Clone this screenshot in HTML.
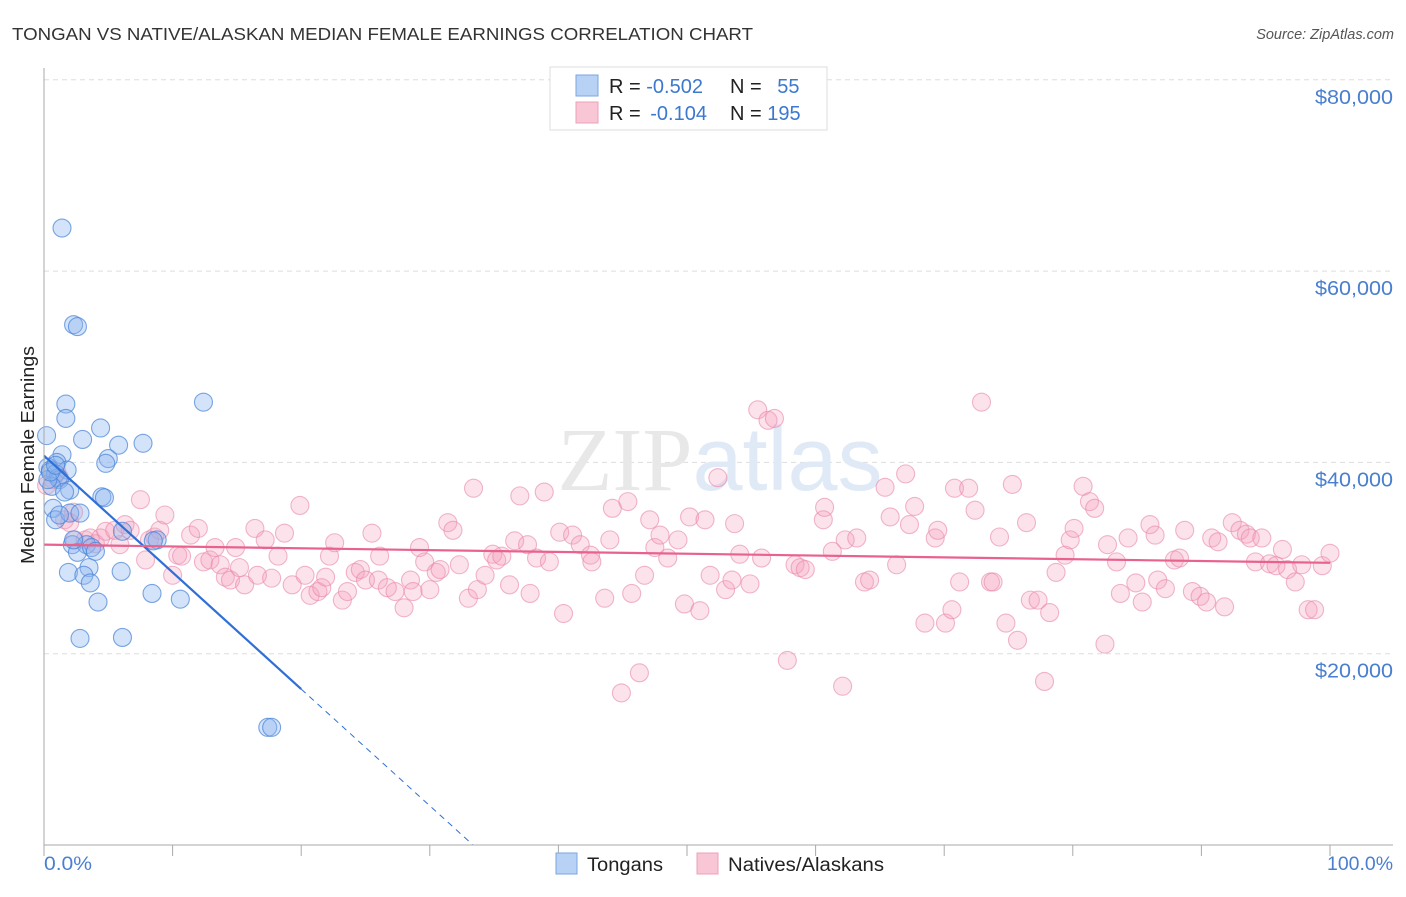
<!DOCTYPE html>
<html><head><meta charset="utf-8"><style>
body{margin:0;background:#fff;font-family:"Liberation Sans",sans-serif;}
svg text{font-family:"Liberation Sans",sans-serif;}
</style></head><body>
<svg width="1406" height="892" viewBox="0 0 1406 892">
<text x="12" y="40" font-size="17.5" fill="#333" textLength="741" lengthAdjust="spacingAndGlyphs">TONGAN VS NATIVE/ALASKAN MEDIAN FEMALE EARNINGS CORRELATION CHART</text>
<text x="1394" y="39" font-size="14.5" fill="#555" font-style="italic" text-anchor="end">Source: ZipAtlas.com</text>
<g id="grid"></g>
<text x="720" y="490" font-size="90" fill="#e4e8ef" text-anchor="middle" font-family="Liberation Serif"><tspan fill="#e8e8e8" font-family="Liberation Serif">ZIP</tspan><tspan fill="#e0eaf7" font-family="Liberation Sans">atlas</tspan></text>
<g id="pts"></g>
<g id="axes"></g>
<text transform="translate(34,455) rotate(-90)" font-size="18" fill="#222" text-anchor="middle" textLength="218" lengthAdjust="spacingAndGlyphs">Median Female Earnings</text>
<text x="44" y="870" font-size="19" fill="#4a7fd0" textLength="48" lengthAdjust="spacingAndGlyphs">0.0%</text>
<text x="1393" y="870" font-size="19" fill="#4a7fd0" text-anchor="end" textLength="66" lengthAdjust="spacingAndGlyphs">100.0%</text>
<g>
<rect x="550" y="67" width="277" height="63" fill="#fff" stroke="#ddd"/>
<rect x="576" y="75" width="22" height="21" fill="#b8d2f5" stroke="#7aa6e0"/>
<rect x="576" y="102" width="22" height="21" fill="#f9c6d5" stroke="#eca0b8"/>
<text x="609" y="93" font-size="20" fill="#222">R = <tspan fill="#3c78d0">-0.502</tspan></text>
<text x="730" y="93" font-size="20" fill="#222">N = <tspan fill="#3c78d0" dx="10">55</tspan></text>
<text x="609" y="120" font-size="20" fill="#222">R = <tspan fill="#3c78d0" dx="4">-0.104</tspan></text>
<text x="730" y="120" font-size="20" fill="#222">N = <tspan fill="#3c78d0">195</tspan></text>
</g>
<g>
<rect x="556" y="853" width="21" height="21" fill="#b8d2f5" stroke="#7aa6e0"/>
<text x="587" y="871" font-size="19" fill="#222" textLength="76" lengthAdjust="spacingAndGlyphs">Tongans</text>
<rect x="697" y="853" width="21" height="21" fill="#f9c6d5" stroke="#eca0b8"/>
<text x="728" y="871" font-size="19" fill="#222" textLength="156" lengthAdjust="spacingAndGlyphs">Natives/Alaskans</text>
</g>
</svg>
<script>
const yTicks=[20000,40000,60000,80000];
const yTickLabels=["$20,000","$40,000","$60,000","$80,000"];
const xTicks=[0,10,20,30,40,50,60,70,80,90,100];
const blueX=[1.4,2.3,2.6,1.7,1.7,4.4,3.0,0.2,7.7,5.8,12.4,5.0,4.8,1.4,1.0,0.3,0.5,1.8,0.9,1.1,1.2,0.6,2.0,1.6,4.5,4.7,0.7,0.9,2.0,2.8,1.2,6.1,8.8,8.5,2.2,3.3,2.6,3.7,4.0,3.5,6.0,1.9,3.1,3.6,8.4,10.6,4.2,2.8,6.1,17.4,17.7,0.3,0.5,0.9,2.3];
const blueY=[64.5,54.4,54.2,46.1,44.6,43.6,42.4,42.8,42.0,41.8,46.3,40.4,39.9,40.8,40.0,39.5,39.2,39.2,38.8,38.4,38.2,37.5,37.1,36.9,36.4,36.3,35.2,34.0,34.7,34.7,34.5,32.8,31.9,31.8,31.4,31.4,30.6,31.1,30.7,29.0,28.6,28.5,28.2,27.4,26.3,25.7,25.4,21.6,21.7,12.3,12.3,38.2,39.0,39.7,31.9];
const pinkX=[0.2,0.7,1.0,1.2,1.6,2.0,2.3,2.4,3.2,3.6,4.0,4.4,4.8,5.5,5.9,6.3,6.7,7.5,7.9,8.2,8.6,9.0,9.4,10.0,10.4,10.7,11.4,12.0,12.4,12.9,13.3,13.7,14.1,14.5,14.9,15.2,15.6,16.4,16.6,17.2,17.7,18.2,18.7,19.3,19.9,20.3,20.7,21.3,21.6,21.9,22.2,22.6,23.2,23.6,24.2,24.6,25.0,25.5,26.0,26.1,26.7,27.3,28.0,28.5,28.7,29.2,29.6,30.0,30.5,30.8,31.4,31.8,32.3,33.0,33.4,33.7,34.3,34.9,35.2,35.6,36.2,36.6,37.0,37.6,37.8,38.3,38.9,39.3,40.1,40.4,41.1,41.7,42.5,42.6,43.6,44.0,44.2,44.9,45.4,45.7,46.3,46.7,47.1,47.5,47.9,48.5,49.3,49.8,50.2,51.0,51.4,51.8,52.4,53.0,53.5,53.7,54.1,54.9,55.5,55.8,56.3,56.8,57.8,58.4,58.8,59.2,60.6,60.7,61.3,62.1,62.3,63.2,63.8,64.2,65.4,65.8,66.3,67.0,67.3,67.7,68.5,69.3,69.5,70.1,70.6,70.8,71.2,71.9,72.4,72.9,73.6,73.8,74.3,74.8,75.3,75.7,76.4,76.7,77.3,77.8,78.2,78.7,79.4,79.8,80.1,80.8,81.3,81.7,82.5,82.7,83.4,83.7,84.3,84.9,85.4,86.0,86.4,86.6,87.2,87.9,88.3,88.7,89.3,89.9,90.4,90.8,91.3,91.8,92.4,93.0,93.5,93.8,94.2,94.7,95.3,95.8,96.3,96.7,97.3,97.8,98.3,98.8,99.4,100];
const pinkY=[37.6,38.2,39.0,38.4,34.0,33.7,34.8,31.9,31.9,32.1,31.5,32.1,32.8,32.9,31.4,33.5,32.9,36.1,29.8,31.9,32.2,32.9,34.5,28.2,30.3,30.2,32.4,33.1,29.6,29.8,31.1,29.3,28.0,27.7,31.1,29.0,27.2,33.1,28.2,31.9,27.9,30.2,32.6,27.2,35.5,28.2,26.1,26.5,26.9,28.0,30.2,31.6,25.6,26.5,28.5,28.8,27.7,32.6,27.7,30.2,26.9,26.5,24.8,27.7,26.5,31.1,29.6,26.7,28.5,28.8,33.7,32.9,29.3,25.8,37.3,26.7,28.2,30.4,29.8,30.2,27.2,31.8,36.5,31.4,26.3,30.0,36.9,29.6,32.7,24.2,32.4,31.4,30.3,29.6,25.8,31.9,35.2,15.9,35.9,26.3,18.0,28.2,34.0,31.1,32.4,30.0,31.9,25.2,34.3,24.5,34.0,28.2,38.4,26.7,27.7,33.6,30.4,27.3,45.5,30.0,44.4,44.6,19.3,29.3,29.0,28.8,34.0,35.3,30.7,16.6,31.9,32.1,27.5,27.7,37.4,34.3,29.3,38.8,33.5,35.4,23.2,32.1,32.9,23.2,24.6,37.3,27.5,37.3,35.0,46.3,27.5,27.5,32.2,23.2,37.7,21.4,33.7,25.6,25.6,17.1,24.3,28.5,30.3,31.9,33.1,37.5,35.9,35.2,21.0,31.4,29.6,26.3,32.1,27.4,25.4,33.5,32.4,27.7,26.8,29.8,30.0,32.9,26.5,26.0,25.4,32.1,31.7,24.9,33.7,32.9,32.5,32.1,29.6,32.1,29.4,29.2,30.9,28.8,27.5,29.3,24.6,24.6,29.2,30.5];
const blueTrend=[40.7,-1.22]; // intercept (k$), slope per pct
const pinkTrend=[31.4,-0.019];
const NS="http://www.w3.org/2000/svg";
function sx(p){return 44+p*12.86;}
function sy(v){return 845-v/20*191.3;}
function mk(t,a,par){const e=document.createElementNS(NS,t);for(const k in a)e.setAttribute(k,a[k]);par.appendChild(e);return e;}
const grid=document.getElementById('grid'),axes=document.getElementById('axes'),pts=document.getElementById('pts');
yTicks.forEach((v,i)=>{const y=sy(v/1000);
 const l=mk('line',{x1:44,x2:1393,y1:y,y2:y,stroke:'#ddd','stroke-dasharray':'5,4'},grid);
 
 
 const t=mk('text',{x:1393,y:y+24,'font-size':20,fill:'#4a7fd0','text-anchor':'end',textLength:78,lengthAdjust:'spacingAndGlyphs'},axes);t.textContent=yTickLabels[i];
 
 
});
mk('line',{x1:44,x2:44,y1:68,y2:845,stroke:'#aaa'},axes);
mk('line',{x1:44,x2:1393,y1:845,y2:845,stroke:'#aaa'},axes);
xTicks.forEach(p=>{const t=mk('line',{x1:sx(p),x2:sx(p),y1:845,y2:856,stroke:'#aaa'},axes);
 
 });
function dots(X,Y,fill,stroke,name){X.forEach((p,i)=>{const c=mk('circle',{cx:sx(p),cy:sy(Y[i]),r:9,fill:fill,stroke:stroke,'stroke-width':1.1},pts);
 
 });}
dots(pinkX,pinkY,'rgba(244,160,190,0.3)','rgba(232,135,170,0.6)','native-point');
dots(blueX,blueY,'rgba(140,182,238,0.38)','rgba(70,130,215,0.7)','tongan-point');
const bEnd=20, bZero=-blueTrend[0]/blueTrend[1];
const b1=mk('line',{x1:sx(0),y1:sy(blueTrend[0]),x2:sx(bEnd),y2:sy(blueTrend[0]+blueTrend[1]*bEnd),stroke:'#2f6fd6','stroke-width':2.2},pts);


const b2=mk('line',{x1:sx(bEnd),y1:sy(blueTrend[0]+blueTrend[1]*bEnd),x2:sx(bZero),y2:sy(0),stroke:'#2f6fd6','stroke-width':1,'stroke-dasharray':'6,5'},pts);


const p1=mk('line',{x1:sx(0),y1:sy(pinkTrend[0]),x2:sx(100),y2:sy(pinkTrend[0]+pinkTrend[1]*100),stroke:'#e8628e','stroke-width':2.2},pts);


</script>
</body></html>
